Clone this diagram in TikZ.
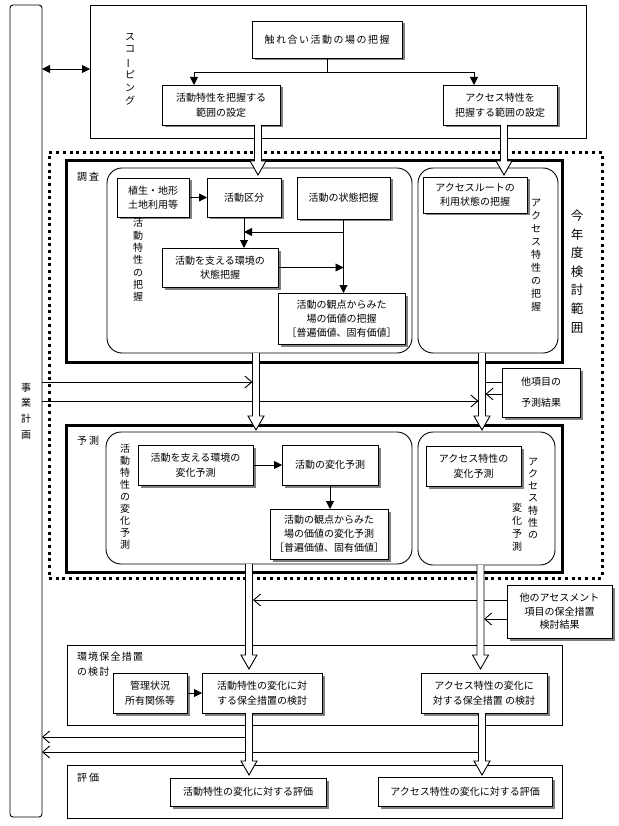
\documentclass[tikz,border=0pt]{standalone}
\usepackage{fontspec}
\usepackage{graphicx}
\newfontfamily\jp{Noto Sans CJK JP}
\usetikzlibrary{arrows.meta,shadows,calc}

\tikzset{
 base/.style={font=\jp\fontsize{10}{14.5}\selectfont, align=center, inner sep=0pt, outer sep=0pt},
 sbox/.style={base, draw, fill=white, line width=0.9pt, drop shadow={shadow xshift=2.5pt,shadow yshift=-2.5pt,fill=black!50,opacity=1}},
 frame/.style={draw, line width=0.9pt, inner sep=0pt, outer sep=0pt},
 thickframe/.style={draw, line width=3pt, inner sep=0pt, outer sep=0pt},
 rbox/.style={draw, line width=0.9pt, rounded corners=15pt, inner sep=0pt, outer sep=0pt},
 dotframe/.style={draw, line width=3pt, dash pattern=on 3pt off 3.7pt, inner sep=0pt, outer sep=0pt},
 vt/.style={base},
 lab/.style={base, anchor=west, align=left},
 farr/.style={draw, line width=0.9pt, -{Triangle[length=8pt,width=8pt]}},
 oarr/.style={draw, line width=0.9pt, -{Straight Barb[length=7pt,width=12pt]}},
 pline/.style={draw, line width=0.9pt},
 hollow/.style={draw, fill=white, line width=0.9pt},
}
\newcommand\harrow[2]{\path[hollow] let \p1=#1, \p2=#2 in
  (\x1-3.5pt,\y1) -- (\x1-3.5pt,\y2+14pt) -- (\x1-8pt,\y2+14pt) -- (\x1,\y2)
  -- (\x1+8pt,\y2+14pt) -- (\x1+3.5pt,\y2+14pt) -- (\x1+3.5pt,\y1);}

\begin{document}
\begin{tikzpicture}[x=1pt,y=-1pt]
\useasboundingbox (0,0) rectangle (618,826);
\fill[white] (0,0) rectangle (618,826);

% left business-plan column
\node[draw, line width=0.9pt, rounded corners=3pt, minimum width=32pt, minimum height=812pt,
  base, font=\jp\fontsize{10}{15.7}\selectfont] (jigyo) at (26,411) {事\\業\\計\\画};

% scoping
\node[frame, minimum width=496pt, minimum height=133pt] (scope) at (338,71.5) {};
\node[vt, font=\jp\fontsize{10}{12.8}\selectfont] (scopelab) at (130,69)
  {ス\\コ\\\rotatebox[origin=c]{90}{ー}\\ピ\\ン\\グ};
\draw[{Triangle[length=8pt,width=8pt]}-{Triangle[length=8pt,width=8pt]}, line width=0.9pt]
  (jigyo.east |- scopelab) -- (scope.west |- scopelab);
\node[sbox, minimum width=150pt, minimum height=37pt,
  font=\jp\fontsize{10}{14}\selectfont\addfontfeature{LetterSpace=15}] (top) at (327,39.5) {触れ合い活動の場の把握};
\node[sbox, minimum width=118pt, minimum height=40pt] (sa) at (221,105) {活動特性を把握する\\範囲の設定};
\node[sbox, minimum width=114pt, minimum height=40pt] (sb) at (500,105) {アクセス特性を\\把握する範囲の設定};
\draw[farr] (top.south) -- ++(0,14) -| ([xshift=-27pt]sa.north);
\draw[farr] (top.south) ++(0,14) -| ([xshift=-26pt]sb.north);

% this year's scope
\node[dotframe, minimum width=553pt, minimum height=425pt] (nendo) at (325.5,365.5) {};
\node[vt, font=\jp\fontsize{12.5}{18.6}\selectfont] (nendolab) at (577,271.5) {今\\年\\度\\検\\討\\範\\囲};

% survey
\node[thickframe, minimum width=496pt, minimum height=201pt] (chosa) at (314,261.5) {};
\node[lab, font=\jp\fontsize{10}{14}\selectfont\addfontfeature{LetterSpace=20}] (chosalab) at (77,177) {調査};
\node[rbox, minimum width=305pt, minimum height=185pt] (r1) at (259.5,260.5) {};
\node[rbox, minimum width=140pt, minimum height=185pt] (r2) at (488,260.5) {};
\node[sbox, minimum width=72pt, minimum height=39pt] (veg) at (153,197.5) {植生・地形\\土地利用等};
\node[sbox, minimum width=74pt, minimum height=39pt] (kubun) at (244,197.5) {活動区分};
\node[sbox, minimum width=93pt, minimum height=42pt] (jotai) at (343.5,198) {活動の状態把握};
\node[sbox, minimum width=116pt, minimum height=39pt] (sasaeru) at (220,267.5) {活動を支える環境の\\状態把握};
\node[sbox, minimum width=127pt, minimum height=51pt, font=\jp\fontsize{10}{14}\selectfont] (kachi) at (341.5,318.5)
  {活動の観点からみた\\場の価値の把握\\［普遍価値、固有価値］};
\node[sbox, minimum width=104pt, minimum height=36pt] (route) at (475,195) {アクセスルートの\\利用状態の把握};
\node[vt, font=\jp\fontsize{10}{12.3}\selectfont] (r1lab) at (138,260) {活\\動\\特\\性\\の\\把\\握};
\node[vt, font=\jp\fontsize{10}{13}\selectfont] (r2lab) at (536,255) {ア\\ク\\セ\\ス\\特\\性\\の\\把\\握};
\draw[farr] (veg) -- (kubun);
\draw[farr] (kubun.south) -- (kubun.south |- sasaeru.north);
\draw[farr] (jotai.south) -- (jotai.south |- kachi.north);
\coordinate (j1) at ([yshift=-13pt]jotai.south);
\draw[farr] (j1) -- (j1 -| kubun.south);
\draw[farr] (sasaeru.east) -- (sasaeru.east -| jotai.south);

% other items' prediction results
\node[sbox, minimum width=78pt, minimum height=49pt, font=\jp\fontsize{10}{21}\selectfont] (tako) at (541,392.5) {他項目の\\予測結果};

% prediction
\node[thickframe, minimum width=496pt, minimum height=147pt] (yosoku) at (314,498.5) {};
\node[lab, font=\jp\fontsize{10}{14}\selectfont\addfontfeature{LetterSpace=20}] (yosokulab) at (77,441) {予測};
\node[rbox, minimum width=306pt, minimum height=132pt] (p1) at (259,498) {};
\node[rbox, minimum width=137pt, minimum height=133pt] (p2) at (486.5,498.5) {};
\node[sbox, minimum width=115pt, minimum height=40pt] (psasa) at (195.5,465) {活動を支える環境の\\変化予測};
\node[sbox, minimum width=96pt, minimum height=40pt] (phenka) at (330,465) {活動の変化予測};
\node[sbox, minimum width=118pt, minimum height=50pt, font=\jp\fontsize{10}{14}\selectfont] (pkachi) at (329,534)
  {活動の観点からみた\\場の価値の変化予測\\［普遍価値、固有価値］};
\node[sbox, minimum width=95pt, minimum height=40pt] (pacc) at (473.5,466) {アクセス特性の\\変化予測};
\node[vt, font=\jp\fontsize{10}{12}\selectfont] (p1lab) at (125,497) {活\\動\\特\\性\\の\\変\\化\\予\\測};
\node[vt, font=\jp\fontsize{10}{12.2}\selectfont] (p2laba) at (533,498.5) {ア\\ク\\セ\\ス\\特\\性\\の};
\node[vt, font=\jp\fontsize{10}{13}\selectfont] (p2labb) at (517,527.5) {変\\化\\予\\測};
\draw[farr] (psasa) -- (phenka);
\draw[farr] (phenka.south) -- (phenka.south |- pkachi.north);

% other assessment items
\node[sbox, minimum width=105pt, minimum height=53pt, font=\jp\fontsize{10}{13.5}\selectfont] (other) at (559.5,611.5)
  {他のアセスメント\\項目の保全措置\\検討結果};

% conservation measures
\node[frame, minimum width=495pt, minimum height=80pt] (hozen) at (314.5,685) {};
\node[lab, font=\jp\fontsize{10}{15}\selectfont\addfontfeature{LetterSpace=12}] (hozenlab) at (77,664.5) {環境保全措置\\の検討};
\node[sbox, minimum width=74pt, minimum height=40pt] (kanri) at (150,693) {管理状況\\所有関係等};
\node[sbox, minimum width=120pt, minimum height=40pt] (h1) at (262,693) {活動特性の変化に対\\する保全措置の検討};
\node[sbox, minimum width=126pt, minimum height=40pt] (h2) at (484,693) {アクセス特性の変化に\\対する保全措置 の検討};
\draw[farr] (kanri) -- (h1);

% evaluation
\node[frame, minimum width=495pt, minimum height=53pt] (hyoka) at (314.5,791.5) {};
\node[lab, font=\jp\fontsize{10}{14}\selectfont\addfontfeature{LetterSpace=20}] (hyokalab) at (77,778) {評価};
\node[sbox, minimum width=156pt, minimum height=28pt] (e1) at (248,792) {活動特性の変化に対する評価};
\node[sbox, minimum width=174pt, minimum height=29pt] (e2) at (465,791.5) {アクセス特性の変化に対する評価};

% thin connectors
\coordinate (t1) at (252.5,382);
\coordinate (t2) at (478.5,401);
\coordinate (t3) at (485.5,382);
\coordinate (t4) at (485.5,394);
\coordinate (t5) at (253,600);
\coordinate (t6) at (484,619);
\coordinate (t7) at (245.5,737);
\coordinate (t8) at (478.5,752);
\draw[oarr] (jigyo.east |- t1) -- (t1);
\draw[oarr] (jigyo.east |- t2) -- (t2);
\draw[pline] (tako.west |- t3) -- (t3);
\draw[oarr] (tako.west |- t4) -- (t4);
\draw[oarr] (other.west |- t5) -- (t5);
\draw[oarr] (other.west |- t6) -- (t6);
\draw[oarr] (t7) -- (jigyo.east |- t7);
\draw[oarr] (t8) -- (jigyo.east |- t8);

% hollow block arrows
\harrow{([xshift=37pt]sa.south)}{([yshift=3pt]kubun.north)}
\harrow{([xshift=4pt]sb.south)}{([yshift=2pt]route.north)}
\harrow{([xshift=-3.5pt]r1.south)}{([yshift=2pt]p1.north)}
\harrow{([xshift=-6pt]r2.south)}{([yshift=2pt]p2.north)}
\harrow{([xshift=-10pt]p1.south)}{([yshift=4pt]h1.north)}
\harrow{([xshift=-6pt]p2.south)}{([yshift=4pt]h2.north)}
\harrow{([xshift=-13pt]h1.south)}{([yshift=3pt]e1.north)}
\harrow{([xshift=-2pt]h2.south)}{([yshift=2pt]e2.north)}
\end{tikzpicture}
\end{document}
